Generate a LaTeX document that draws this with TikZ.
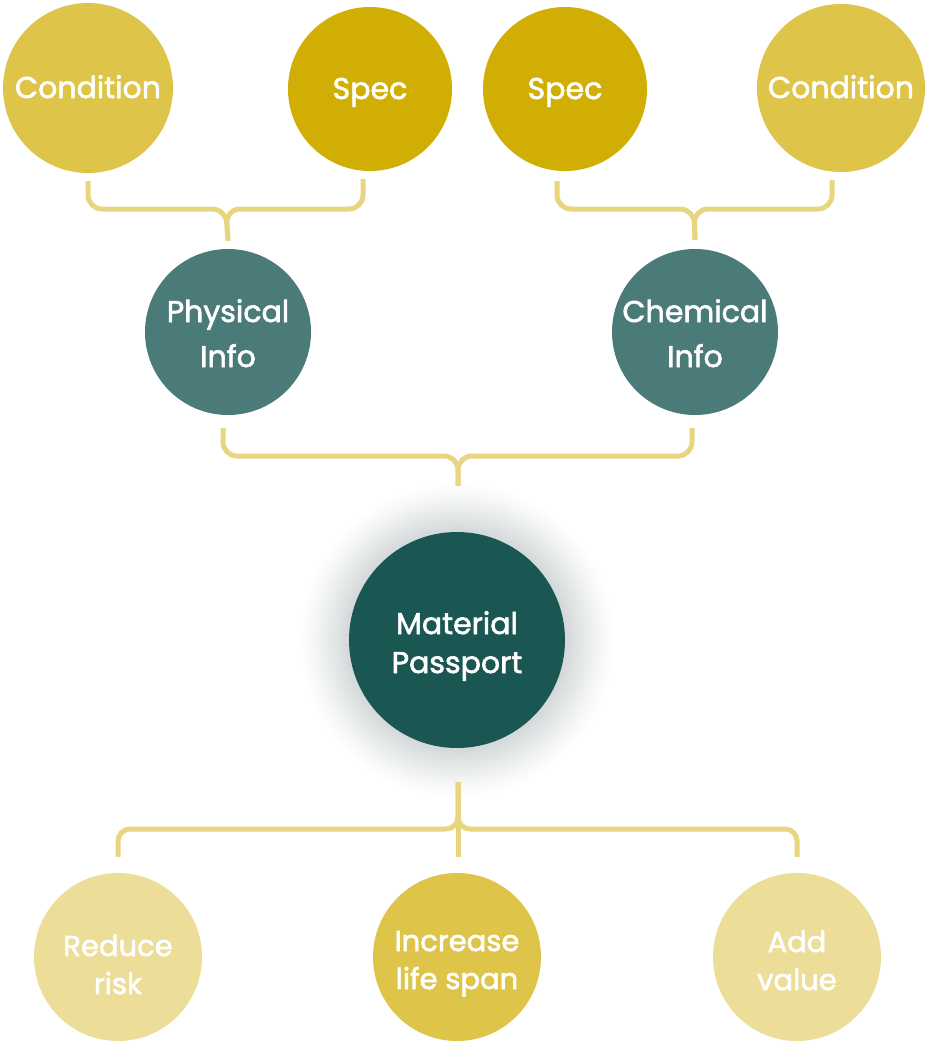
\documentclass[tikz,border=0pt]{standalone}
\usepackage{fontspec}
\setmainfont{Poppins}[FakeBold=2]
\definecolor{goldA}{HTML}{DEC449}
\definecolor{goldB}{HTML}{D1AE03}
\definecolor{goldC}{HTML}{ECDD98}
\definecolor{tealA}{HTML}{4B7B78}
\definecolor{tealB}{HTML}{1A5753}
\definecolor{lineC}{HTML}{E8D580}
\definecolor{haloC}{HTML}{D2D7D7}
\pgfdeclareradialshading{halo}{\pgfpoint{0bp}{0bp}}{color(0bp)=(haloC); color(17bp)=(haloC); color(19bp)=(haloC!70!white); color(21bp)=(haloC!42!white); color(23bp)=(haloC!18!white); color(25bp)=(white); color(50bp)=(white)}
\begin{document}
\begin{tikzpicture}[x=1pt,y=-1pt,
  bub/.style={circle,inner sep=0pt,minimum size=#1},
  txt/.style={anchor=base,inner sep=0pt,text=white,font=\fontsize{30}{36}\selectfont},
  stxt/.style={txt,font=\fontsize{29}{36}\selectfont},
  link/.style={draw=lineC,line width=5pt}]
\useasboundingbox (0,0) rectangle (930,1044);
% halo
\shade[shading=halo] (457,640) circle (158);
% circles
\node[bub=170pt,fill=goldA] (c1) at (88,88) {};
\node[bub=164pt,fill=goldB] (s1) at (370,89) {};
\node[bub=164pt,fill=goldB] (s2) at (565,89) {};
\node[bub=168pt,fill=goldA] (c2) at (841,88) {};
\node[bub=166pt,fill=tealA] (phy) at (228,332) {};
\node[bub=166pt,fill=tealA] (chem) at (695,332) {};
\node[bub=216pt,fill=tealB] (mp) at (457,640) {};
\node[bub=168pt,fill=goldC] (r1) at (118,957) {};
\node[bub=168pt,fill=goldA] (r2) at (457,957) {};
\node[bub=168pt,fill=goldC] (r3) at (797,957) {};
% texts
\node[txt] (c1t) at ([yshift=-10pt]c1.center) {Condition};
\node[txt] (s1t) at ([yshift=-10pt]s1.center) {Spec};
\node[txt] (s2t) at ([yshift=-10pt]s2.center) {Spec};
\node[txt] (c2t) at ([yshift=-10pt]c2.center) {Condition};
\node[txt] (phyt1) at ([yshift=10pt]phy.center) {Physical};
\node[txt] (phyt2) at ([yshift=-35pt]phy.center) {Info};
\node[txt] (chemt1) at ([yshift=10pt]chem.center) {Chemical};
\node[txt] (chemt2) at ([yshift=-35pt]chem.center) {Info};
\node[txt] (mpt1) at ([yshift=6pt]mp.center) {Material};
\node[txt] (mpt2) at ([yshift=-33pt]mp.center) {Passport};
\node[stxt] (r1t1) at ([yshift=1pt]r1.center) {Reduce};
\node[stxt] (r1t2) at ([yshift=-37pt]r1.center) {risk};
\node[stxt] (r2t1) at ([yshift=6pt]r2.center) {Increase};
\node[stxt] (r2t2) at ([yshift=-32pt]r2.center) {life span};
\node[stxt] (r3t1) at ([yshift=5pt]r3.center) {Add};
\node[stxt] (r3t2) at ([yshift=-33pt]r3.center) {value};
% top-left bracket
\coordinate (j1) at (226,209);
\draw[link,rounded corners=14pt] ([yshift=-8pt]c1.south) -- (c1.south |- j1) -- (j1) -- ([yshift=8pt]phy.north);
\draw[link,rounded corners=14pt] ([yshift=-8pt]s1.south -| 363,0) -- (363,209) -- (j1) -- ([yshift=8pt]phy.north);
% top-right bracket
\coordinate (j2) at (694,209);
\draw[link,rounded corners=14pt] ([yshift=-10pt]s2.south -| 557,0) -- (557,209) -- (j2) -- ([yshift=9pt]chem.north);
\draw[link,rounded corners=14pt] ([yshift=-8pt]c2.south -| 832,0) -- (832,209) -- (j2) -- ([yshift=9pt]chem.north);
% middle bracket
\coordinate (j3) at (458,456);
\draw[link,rounded corners=14pt] ([yshift=-13pt]phy.south -| 223,0) -- (223,456) -- (j3) -- ([yshift=46pt]mp.north -| j3);
\draw[link,rounded corners=14pt] ([yshift=-13pt]chem.south -| 692,0) -- (692,456) -- (j3) -- ([yshift=46pt]mp.north -| j3);
% bottom bracket
\coordinate (j4) at (458,829);
\draw[link,rounded corners=12pt] ([yshift=-34pt]mp.south -| j4) -- (j4) -- (118,829) -- ([yshift=16pt]r1.north);
\draw[link,rounded corners=12pt] ([yshift=-34pt]mp.south -| j4) -- (j4) -- (797,829) -- ([yshift=16pt]r3.north);
\draw[link] ([yshift=-34pt]mp.south -| j4) -- ([yshift=16pt]r2.north -| j4);
\end{tikzpicture}
\end{document}
